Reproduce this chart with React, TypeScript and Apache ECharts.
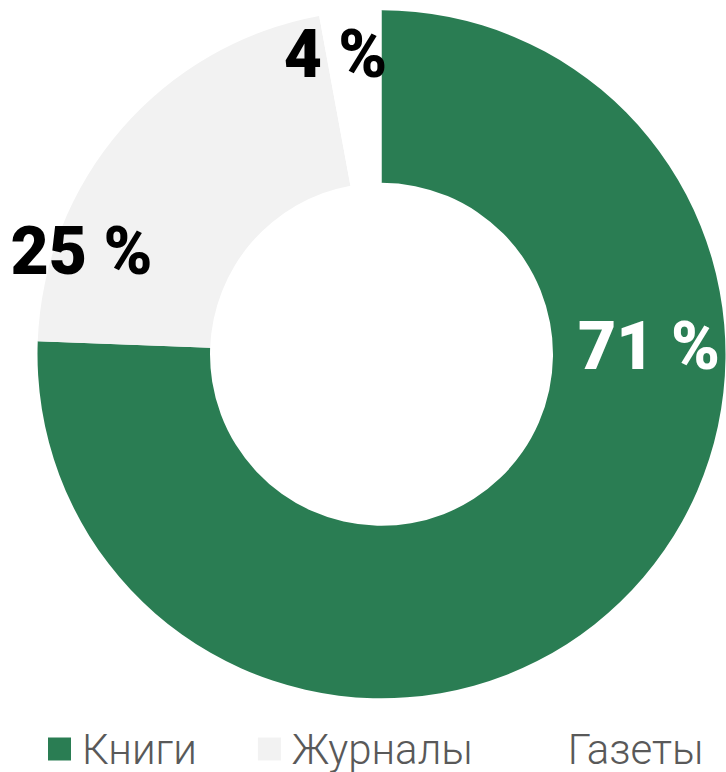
import React, { useEffect, useRef } from "react";
import * as echarts from "echarts";

const categories = ["Книги", "Журналы", "Газеты"];
const sliceValues = [75.6, 21.5, 2.9];
const shareLabels = ["71 %", "25 %", "4 %"];
const colors = ["#2a7d53", "#f2f2f2", "#ffffff"];
const labelColors = ["#ffffff", "#000000", "#000000"];

// label anchor offsets relative to pie centre (px)
const labelOffsets = [
  [267.5, -7.6],
  [-300, -103.3],
  [-46, -299.8],
];

export default function App() {
  const ref = useRef<HTMLDivElement>(null);
  useEffect(() => {
    if (!ref.current) return;
    const chart = echarts.init(ref.current, undefined, { renderer: "svg" });
    const cx = 381.5;
    const cy = 354.3;
    chart.setOption({
      animation: false,
      backgroundColor: "#ffffff",
      legend: {
        bottom: 2,
        left: 48,
        padding: 0,
        itemWidth: 23,
        itemHeight: 23,
        itemGap: 61,
        icon: "rect",
        selectedMode: false,
        textStyle: {
          fontFamily: "Roboto",
          fontWeight: 300,
          fontSize: 42,
          color: "#595959",
          padding: [0, 0, 0, 6],
        },
        data: categories,
      },
      series: [
        {
          type: "pie",
          center: [cx, cy],
          radius: [171.5, 344],
          startAngle: 90,
          clockwise: true,
          avoidLabelOverlap: false,
          emphasis: { disabled: true },
          itemStyle: { borderWidth: 0 },
          label: {
            show: true,
            position: "inside",
            formatter: (p: any) => shareLabels[p.dataIndex],
            fontFamily: "Roboto",
            fontWeight: 900,
            fontSize: 66,
          },
          labelLine: { show: false },
          labelLayout: (p: any) => ({
            x: cx + labelOffsets[p.dataIndex][0],
            y: cy + labelOffsets[p.dataIndex][1],
            align: "center",
            verticalAlign: "middle",
          }),
          data: categories.map((name, i) => ({
            name,
            value: sliceValues[i],
            itemStyle: { color: colors[i] },
            label: { color: labelColors[i] },
          })),
        },
      ],
    });
    return () => chart.dispose();
  }, []);
  return (
    <div
      ref={ref}
      style={{ position: "fixed", left: 0, top: 0, width: 726, height: 772 }}
    />
  );
}
